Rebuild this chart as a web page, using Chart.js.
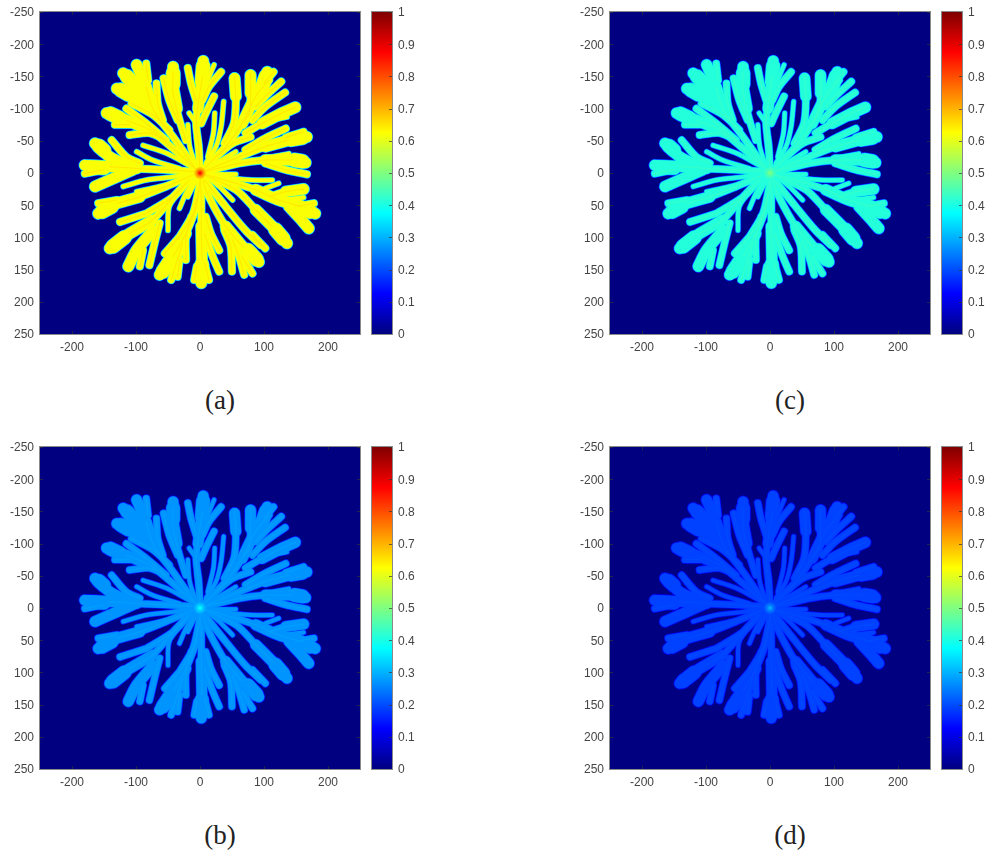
<!DOCTYPE html>
<html>
<head>
<meta charset="utf-8">
<title>Dendrite fields</title>
<script src="https://cdn.jsdelivr.net/npm/chart.js@4"></script>
<style>
  html, body { margin: 0; padding: 0; background: #fff; }
  #page { position: relative; width: 985px; height: 856px; overflow: hidden; }
  canvas { position: absolute; }
  .cap { position: absolute; width: 80px; text-align: center; font: 27px "Liberation Serif", serif; color: #222; }
</style>
</head>
<body>
<div id="page"></div>
<script>
// tick labels
const xTicks = [-200, -100, 0, 100, 200];
const yTicks = [-250, -200, -150, -100, -50, 0, 50, 100, 150, 200, 250];
const barTicks = [0, 0.1, 0.2, 0.3, 0.4, 0.5, 0.6, 0.7, 0.8, 0.9, 1];

// panels: name, field level of the body, level at the centre
const panelNames = ['(a)', '(c)', '(b)', '(d)'];
const bodyLevels = [0.62, 0.41, 0.27, 0.19];
const centreLevels = [0.87, 0.5, 0.38, 0.3];

// jet colormap stops
const jetStops = [0, 0.125, 0.375, 0.625, 0.875, 1];
const jetColors = [[0, 0, 128], [0, 0, 255], [0, 255, 255], [255, 255, 0], [255, 0, 0], [128, 0, 0]];

// branch centre lines, [x, y] in axis units
const thinBranches = [
  [[-19,-75],[-16,-41],[-6,-10]],
  [[-6,-56],[-2,-20]],
  [[23,-93],[21,-62],[12,-25]],
  [[37,-111],[33,-72],[25,-41],[9,-15]],
  [[56,-33],[25,-15]],
  [[56,2],[20,2]],
  [[51,42],[30,21],[14,8]],
  [[-19,37],[-6,11]],
  [[-32,55],[-22,32],[-6,6]],
  [[-50,89],[-48,52],[-27,24]],
  [[-99,-33],[-74,-20],[-32,-7]],
  [[-89,-43],[-53,-31],[-17,-12]],
  [[-120,21],[-84,11],[-42,6],[-11,1]],
  [[-99,29],[-63,21],[-27,11]],
  [[113,11],[82,11],[46,8],[14,6]],
  [[22,-168],[12,-144]],
  [[-17,-93],[-6,-77]],
  [[136,-87],[102,-80]],
  [[139,-30],[113,-25],[82,-18]],
  [[162,38],[128,42]],
  [[123,16],[102,24]]
];

const midBranches = [
  [[0,0],[-2,-41],[-6,-77],[-2,-113],[4,-149]],
  [[0,0],[40,-41],[66,-77],[87,-119],[108,-144]],
  [[0,0],[61,-25],[102,-41],[139,-51]],
  [[0,0],[61,-15],[102,-20],[144,-20]],
  [[0,0],[46,13],[87,26],[123,42],[159,52]],
  [[0,0],[56,26],[87,57],[113,83]],
  [[7,11],[40,52],[71,89],[95,112]],
  [[4,11],[14,37],[40,83],[66,114]],
  [[0,0],[2,42],[2,83],[3,135]],
  [[0,11],[-6,52],[-22,94],[-42,130]],
  [[-1,21],[-11,63],[-32,99]],
  [[-17,11],[-42,37],[-74,73],[-110,94]],
  [[-17,11],[-42,37],[-84,63]],
  [[-11,3],[-53,21],[-94,37],[-130,47]],
  [[-6,-2],[-53,-5],[-99,-7],[-141,-10]],
  [[-6,-5],[-42,-38],[-79,-67],[-115,-82]],
  [[-6,-5],[-42,-56],[-73,-98],[-84,-134]],
  [[-22,-51],[-32,-82],[-42,-124],[-42,-157]],
  [[-57,-147],[-48,-113],[-35,-82]],
  [[-19,-163],[-14,-139],[-6,-113]],
  [[33,-157],[14,-134],[4,-113]],
  [[22,-119],[9,-93],[2,-77]],
  [[54,-150],[56,-113],[53,-77],[38,-46]],
  [[79,-155],[79,-119],[77,-93],[66,-77]],
  [[115,-157],[100,-139]],
  [[127,-142],[102,-119],[87,-103]],
  [[133,-125],[102,-103],[82,-82]],
  [[149,-102],[128,-93],[97,-77],[71,-62]],
  [[79,-56],[51,-46],[25,-25]],
  [[162,-64],[134,-55]],
  [[134,-69],[102,-54],[71,-36]],
  [[167,2],[134,-5],[102,-15]],
  [[178,47],[149,52]],
  [[162,25],[134,29],[108,37]],
  [[102,117],[82,96]],
  [[69,158],[61,130],[51,104]],
  [[50,153],[48,114],[38,89]],
  [[82,156],[66,130]],
  [[30,153],[20,130],[7,94]],
  [[30,120],[17,94],[9,68]],
  [[-9,166],[-5,145]],
  [[14,166],[7,140]],
  [[-45,166],[-37,140],[-27,109]],
  [[-35,161],[-32,135]],
  [[-22,135],[-22,99],[-14,68]],
  [[-55,125],[-32,99]],
  [[-125,76],[-84,63]],
  [[-94,145],[-89,120]],
  [[-79,143],[-71,109],[-63,78]],
  [[-159,47],[-130,42]],
  [[-180,1],[-151,-5]],
  [[-138,-51],[-115,-25],[-94,-15]],
  [[-133,-75],[-110,-75]],
  [[-110,-59],[-79,-62],[-53,-51]],
  [[-115,-100],[-84,-77],[-53,-51]],
  [[-107,-108],[-73,-90],[-48,-67]],
  [[-68,-139],[-66,-108],[-58,-82]],
  [[-84,-170],[-81,-144]]
];

const wideBranches = [
  [[4,-149],[5,-174]],
  [[-3,-100],[4,-149]],
  [[-42,-165],[-42,-134]],
  [[-36,-100],[-42,-134]],
  [[54,-147],[56,-119]],
  [[79,-152],[79,-124]],
  [[105,-157],[95,-134],[84,-108]],
  [[66,-77],[87,-119],[100,-135]],
  [[149,-102],[128,-93]],
  [[97,-77],[128,-93]],
  [[167,-56],[139,-51]],
  [[102,-41],[139,-51]],
  [[165,-16],[144,-19]],
  [[102,-20],[144,-20]],
  [[180,63],[159,52]],
  [[87,26],[123,42],[159,52]],
  [[170,86],[154,68],[139,52]],
  [[162,25],[134,29]],
  [[136,109],[113,83],[87,57]],
  [[92,138],[66,114]],
  [[40,83],[66,114]],
  [[3,135],[2,171]],
  [[2,83],[3,135]],
  [[-63,158],[-42,130]],
  [[-22,94],[-42,130]],
  [[-141,117],[-110,94]],
  [[-74,73],[-110,94]],
  [[-112,145],[-99,120],[-73,89]],
  [[-159,63],[-130,47]],
  [[-94,37],[-130,47]],
  [[-180,-12],[-141,-10]],
  [[-99,-7],[-141,-10]],
  [[-164,21],[-130,6],[-105,-5]],
  [[-164,-46],[-141,-25],[-115,-12]],
  [[-146,-93],[-115,-82]],
  [[-79,-67],[-115,-82]],
  [[-130,-131],[-105,-119],[-79,-98]],
  [[-120,-155],[-99,-134],[-79,-108]],
  [[-99,-168],[-86,-139]],
  [[-73,-98],[-84,-134]]
];

// fattest outer lobes
const lobeBranches = [
  [[5,-166],[3,-142]],
  [[-42,-155],[-42,-138]],
  [[-136,114],[-118,100]],
  [[160,-18],[148,-20]],
  [[-140,-92],[-125,-85]],
  [[-124,-129],[-112,-122]],
  [[-114,-150],[-105,-140]],
  [[160,-55],[142,-52]],
  [[172,60],[155,52]],
  [[88,134],[75,120]],
  [[-58,153],[-48,138]],
  [[3,163],[3,142]],
  [[-158,-42],[-150,-35]],
  [[-172,-9],[-150,-8]],
  [[-153,60],[-138,52]],
  [[103,-150],[98,-135]],
  [[130,102],[118,88]]
];

const centreX = [0];
const centreY = [0];

function jet(v) {
  let i = 0;
  while (i < jetStops.length - 2 && v > jetStops[i + 1]) i++;
  const t = (v - jetStops[i]) / (jetStops[i + 1] - jetStops[i]);
  const c = jetColors[i].map((a, k) => Math.round(a + (jetColors[i + 1][k] - a) * t));
  return 'rgb(' + c.join(',') + ')';
}

// polylines joined with gaps so one dataset holds a whole width class
function flatten(lines) {
  const out = [];
  lines.forEach(line => {
    line.forEach(p => out.push({ x: p[0], y: p[1] }));
    out.push({ x: null, y: null });
  });
  return out;
}

// frame and inward ticks like the original figure
const frame = {
  id: 'frame',
  beforeDatasetsDraw(chart, args, opts) {
    if (!opts.fill) return;
    const a = chart.chartArea;
    chart.ctx.fillStyle = opts.fill;
    chart.ctx.fillRect(a.left, a.top, a.width, a.height);
  },
  afterDraw(chart) {
    const a = chart.chartArea, ctx = chart.ctx;
    ctx.save();
    ctx.strokeStyle = '#333';
    ctx.globalAlpha = 0.7;
    ctx.lineWidth = 1;
    ctx.beginPath();
    if (chart.config.type === 'scatter') {
      chart.scales.x.ticks.forEach(t => {
        const x = Math.round(chart.scales.x.getPixelForValue(t.value)) + 0.5;
        ctx.moveTo(x, a.top); ctx.lineTo(x, a.top + 3);
        ctx.moveTo(x, a.bottom); ctx.lineTo(x, a.bottom - 3);
      });
    }
    chart.scales.y.ticks.forEach(t => {
      const y = Math.round(chart.scales.y.getPixelForValue(t.value)) + 0.5;
      if (chart.config.type === 'scatter') { ctx.moveTo(a.left, y); ctx.lineTo(a.left + 3, y); }
      ctx.moveTo(a.right, y); ctx.lineTo(a.right - 3, y);
    });
    ctx.stroke();
    ctx.globalAlpha = 1;
    ctx.strokeStyle = '#8a8a8a';
    ctx.strokeRect(a.left - 0.5, a.top - 0.5, a.width + 1, a.height + 1);
    ctx.restore();
  }
};

const tickFont = { family: '"Liberation Sans", Arial, sans-serif', size: 12 };
const tickColor = '#444';

function lineSet(data, width, color, order) {
  return {
    data: data, showLine: true, pointRadius: 0, borderWidth: width, borderColor: color,
    borderCapStyle: 'round', borderJoinStyle: 'round', tension: 0.3, spanGaps: false, order: order
  };
}

function addCanvas(left, top, w, h) {
  const c = document.createElement('canvas');
  c.width = w; c.height = h;
  c.style.left = left + 'px'; c.style.top = top + 'px';
  c.style.width = w + 'px'; c.style.height = h + 'px';
  document.getElementById('page').appendChild(c);
  return c;
}

function drawPanel(left, top, body, centre) {
  const halo = [[2.4, 0.28], [1.6, 0.55], [0.8, 0.8], [0, 1]];
  const datasets = [];
  let order = 1000;
  halo.forEach(h => {
    const col = jet(body * h[1]);
    datasets.push(lineSet(flatten(lobeBranches), 13.5 + h[0], col, order--));
    datasets.push(lineSet(flatten(wideBranches), 10.5 + h[0], col, order--));
    datasets.push(lineSet(flatten(midBranches), 6.5 + h[0], col, order--));
    datasets.push(lineSet(flatten(thinBranches), 4 + h[0], col, order--));
  });
  datasets.push(lineSet(flatten(midBranches), 1.2, jet(body * 1.04), order--));
  [6, 4.5, 3, 2, 1].forEach((r, i) => {
    const level = body + (centre - body) * (i + 1) / 5;
    datasets.push({
      data: centreX.map((x, k) => ({ x: x, y: centreY[k] })),
      pointRadius: r, pointBorderWidth: 0, pointBackgroundColor: jet(level), order: order--
    });
  });

  new Chart(addCanvas(left, top, 366, 360), {
    type: 'scatter',
    data: { datasets: datasets },
    plugins: [frame],
    options: {
      responsive: false,
      animation: false,
      layout: { padding: { top: 12, right: 2, left: 0, bottom: 0 } },
      plugins: { legend: { display: false }, tooltip: { enabled: false }, frame: { fill: jet(0) } },
      scales: {
        x: {
          min: -250, max: 250,
          afterBuildTicks: s => { s.ticks = xTicks.map(v => ({ value: v })); },
          afterFit: s => { s.height = 26; s.paddingLeft = 0; s.paddingRight = 0; },
          grid: { display: false, drawTicks: false }, border: { display: false },
          ticks: { font: tickFont, color: tickColor, padding: 6, maxRotation: 0, autoSkip: false }
        },
        y: {
          min: -250, max: 250, reverse: true,
          afterBuildTicks: s => { s.ticks = yTicks.map(v => ({ value: v })); },
          afterFit: s => { s.width = 40; s.paddingTop = 0; s.paddingBottom = 0; },
          grid: { display: false, drawTicks: false }, border: { display: false },
          ticks: { font: tickFont, color: tickColor, padding: 6, labelOffset: 1, autoSkip: false }
        }
      }
    }
  });

  // colorbar
  new Chart(addCanvas(left + 366, top, 60, 360), {
    type: 'bar',
    data: {
      labels: ['level'],
      datasets: [{
        data: [[barTicks[0], barTicks[barTicks.length - 1]]],
        barPercentage: 1, categoryPercentage: 1, borderWidth: 0,
        backgroundColor: ctx => {
          const a = ctx.chart.chartArea;
          if (!a) return jet(0);
          const g = ctx.chart.ctx.createLinearGradient(0, a.bottom, 0, a.top);
          jetStops.forEach(s => g.addColorStop(s, jet(s)));
          return g;
        }
      }]
    },
    plugins: [frame],
    options: {
      responsive: false,
      animation: false,
      layout: { padding: { top: 12, right: 0, left: 6, bottom: 26 } },
      plugins: { legend: { display: false }, tooltip: { enabled: false } },
      scales: {
        x: { display: false },
        y: {
          position: 'right', min: 0, max: 1,
          afterBuildTicks: s => { s.ticks = barTicks.map(v => ({ value: v })); },
          afterFit: s => { s.width = 34; s.paddingTop = 0; s.paddingBottom = 0; },
          grid: { display: false, drawTicks: false }, border: { display: false },
          ticks: { font: tickFont, color: tickColor, padding: 6, labelOffset: 1, autoSkip: false, callback: v => String(v) }
        }
      }
    }
  });
}

function addCaption(text, centre, y) {
  const d = document.createElement('div');
  d.className = 'cap';
  d.textContent = text;
  d.style.left = (centre - 40) + 'px';
  d.style.top = y + 'px';
  document.getElementById('page').appendChild(d);
}

const panelLeft = [0, 570, 0, 570];
const panelTop = [0, 0, 435, 435];
panelNames.forEach((name, i) => {
  drawPanel(panelLeft[i], panelTop[i], bodyLevels[i], centreLevels[i]);
  addCaption(name, panelLeft[i] + 220, panelTop[i] + 385);
});
</script>
</body>
</html>
